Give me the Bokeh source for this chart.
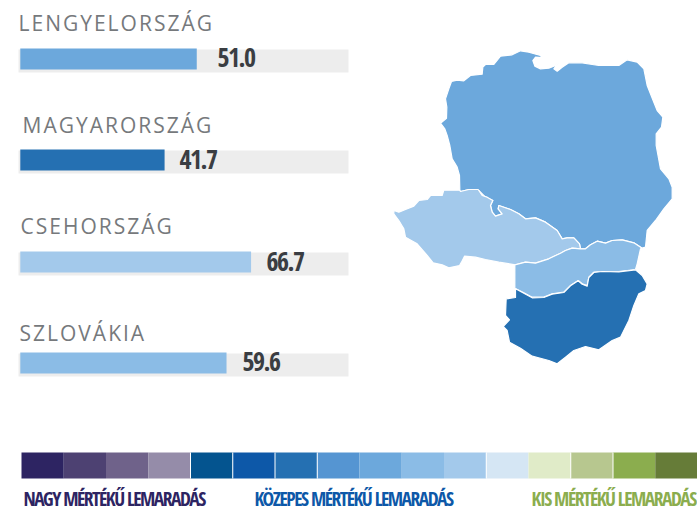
from bokeh.plotting import figure
from bokeh.models import Range1d
from bokeh.layouts import column
from bokeh.core.properties import value
from bokeh.embed import file_html
from bokeh.resources import INLINE

W, H = 697, 510

countries = ["LENGYELORSZÁG", "MAGYARORSZÁG", "CSEHORSZÁG", "SZLOVÁKIA"]
scores = [51.0, 41.7, 66.7, 59.6]
score_labels = ["51.0", "41.7", "66.7", "59.6"]
bar_colors = ["#6CA8DC", "#2570B2", "#A3C9EB", "#8BBCE6"]
name_x = [18, 22, 20, 19]
name_mid = [22.5, 124.5, 225.5, 332.5]
bar_top = [48, 149, 251, 352]
track_top = [49, 150, 252, 353]
score_x = [217, 179, 266, 242]
score_mid = [57, 159, 261, 361]

legend_colors = ["#2D2462", "#4D4172", "#6F628A", "#958CA9", "#04548F", "#0D58A8", "#2570B2", "#5595D2",
                 "#6CA8DC", "#8BBCE6", "#A3C9EB", "#D5E6F4", "#E0EBC8", "#B7C78F", "#8BAD4E", "#667C38"]
legend_gaps = [4, 5, 6, 7, 11, 13, 14]
legend_labels = ["NAGY MÉRTÉKŰ LEMARADÁS", "KÖZEPES MÉRTÉKŰ LEMARADÁS", "KIS MÉRTÉKŰ LEMARADÁS"]
legend_label_colors = ["#2D2462", "#0D58A8", "#8BAD4E"]
legend_label_x = [23, 254, 531]

poland = [(223,15),(222,-30),(215,-55),(200,-80),(193,-120),(185,-150),(178,-170),(165,-187),(183,-202),(184,-235),
          (180,-260),(190,-290),(198,-312),(215,-316),(235,-314),(255,-330),(290,-334),(292,-355),(300,-363),(325,-363),
          (345,-388),(380,-392),(405,-404),(430,-400),(465,-390),(470,-384),(450,-385),(442,-375),(448,-358),(465,-350),
          (490,-352),(505,-358),(520,-370),(505,-350),(515,-343),(530,-355),(550,-368),(590,-368),(640,-360),(700,-360),
          (725,-377),(755,-370),(775,-350),(785,-300),(805,-250),(815,-225),(832,-205),(828,-175),(812,-155),(812,-120),
          (825,-50),(850,-20),(860,5),(860,40),(835,70),(810,105),(785,135),(780,185),(770,188),(745,172),(710,163),
          (680,165),(660,173),(635,167),(615,178),(600,190),(585,190),(582,175),(565,157),(545,157),(530,160),(515,135),
          (480,110),(450,97),(420,100),(400,85),(375,72),(340,60),(338,70),(350,85),(330,92),(320,80),(315,60),(322,45),
          (300,35),(280,15),(250,12),(225,18)]
czechia = [(225,18),(250,12),(278,12),(290,30),(305,35),(322,45),(315,60),(320,80),(330,92),(350,85),(338,70),(340,60),
           (375,72),(400,85),(420,100),(450,97),(480,110),(515,135),(530,160),(545,157),(565,157),(582,175),(585,190),
           (560,188),(540,195),(525,203),(490,220),(450,233),(420,230),(390,238),(340,230),(300,222),(270,215),(237,212),
           (228,230),(222,240),(190,247),(170,238),(143,232),(125,210),(95,175),(60,155),(55,130),(40,105),(25,85),(25,75),
           (40,80),(60,72),(85,62),(100,45),(125,42),(135,30),(170,30),(175,14),(222,14)]
slovakia = [(388,238),(420,230),(450,233),(490,220),(525,203),(540,195),(560,188),(585,190),(600,190),(615,178),(635,167),
            (660,173),(680,165),(710,163),(745,172),(770,188),(765,190),(755,235),(750,252),(700,258),(650,258),(625,260),
            (610,275),(605,300),(590,295),(578,285),(555,300),(535,320),(500,325),(475,335),(440,335),(415,322),(388,308)]
hungary = [(390,310),(415,323),(440,337),(475,336),(500,326),(535,321),(555,301),(578,286),(590,296),(605,302),(610,276),
           (625,261),(650,258),(700,259),(750,253),(770,270),(785,295),(780,315),(760,325),(745,360),(730,405),(705,455),
           (680,465),(640,493),(600,483),(565,495),(540,515),(515,535),(490,525),(440,512),(405,488),(372,470),(365,435),
           (353,423),(372,403),(360,390),(362,340),(390,336)]
map_shapes = [poland, czechia, slovakia, hungary]
map_colors = ["#6CA8DC", "#A3C9EB", "#8BBCE6", "#2570B2"]


def base_fig(margin):
    f = figure(width=W, height=H, x_range=Range1d(0, W), y_range=Range1d(H, 0),
               output_backend="svg", toolbar_location=None, min_border=0, margin=margin)
    f.axis.visible = False
    f.grid.visible = False
    f.outline_line_color = None
    return f


p = base_fig(0)
p.background_fill_color = "white"
p.border_fill_color = "white"
p.styles = {"letter-spacing": "-1.5px"}

BAR_ZERO, PX_PER_UNIT = 19.8, 3.46
p.extra_x_ranges["val"] = Range1d(-BAR_ZERO / PX_PER_UNIT, (W - BAR_ZERO) / PX_PER_UNIT)
p.extra_x_ranges["map"] = Range1d(-385 * 3, (W - 385) * 3)
p.extra_y_ranges["map"] = Range1d((H - 185) * 3, -185 * 3)
LEG_X0, LEG_W = 21, 42.25
p.extra_x_ranges["leg"] = Range1d(-LEG_X0 / LEG_W, (W - LEG_X0) / LEG_W)

# tracks and bars
p.quad(left=[18] * 4, right=[348] * 4, top=track_top, bottom=[t + 23 for t in track_top],
       fill_color="#EDEDED", line_color=None)
p.quad(left=[0] * 4, right=scores, top=bar_top, bottom=[t + 21 for t in bar_top], fill_color=bar_colors,
       line_color=None, x_range_name="val")
p.text(x=score_x, y=score_mid, text=score_labels, text_font=value("Open Sans Condensed"), text_font_style="bold",
       text_font_size="26px", text_color="#3A3D42", text_align="left", text_baseline="middle")

# map
p.patches(xs=[[c[0] for c in s] for s in map_shapes], ys=[[c[1] for c in s] for s in map_shapes],
          fill_color=map_colors, line_color="white", line_width=1.2, line_join="round",
          x_range_name="map", y_range_name="map")

# legend
idx = list(range(len(legend_colors)))
p.quad(left=idx, right=[i + 1 for i in idx], top=[452] * 16, bottom=[478] * 16, fill_color=legend_colors,
       line_color=None, x_range_name="leg")
p.segment(x0=legend_gaps, x1=legend_gaps, y0=[452] * len(legend_gaps), y1=[478] * len(legend_gaps),
          line_color="white", line_width=1, x_range_name="leg")
p.text(x=legend_label_x, y=[497.5] * 3, text=legend_labels, text_color=legend_label_colors,
       text_font=value("Open Sans Condensed"), text_font_style="bold", text_font_size="19.5px",
       text_align="left", text_baseline="middle")

# country names on a transparent overlay, since they need wide letter spacing
q = base_fig((-H, 0, 0, 0))
q.background_fill_alpha = 0
q.border_fill_alpha = 0
q.styles = {"letter-spacing": "2.0px"}
q.text(x=name_x, y=name_mid, text=countries, text_font=value("Open Sans"), text_font_size="21px",
       text_color="#76797C", text_align="left", text_baseline="middle")

open("out.html", "w").write(file_html(column(p, q, spacing=0), INLINE))
